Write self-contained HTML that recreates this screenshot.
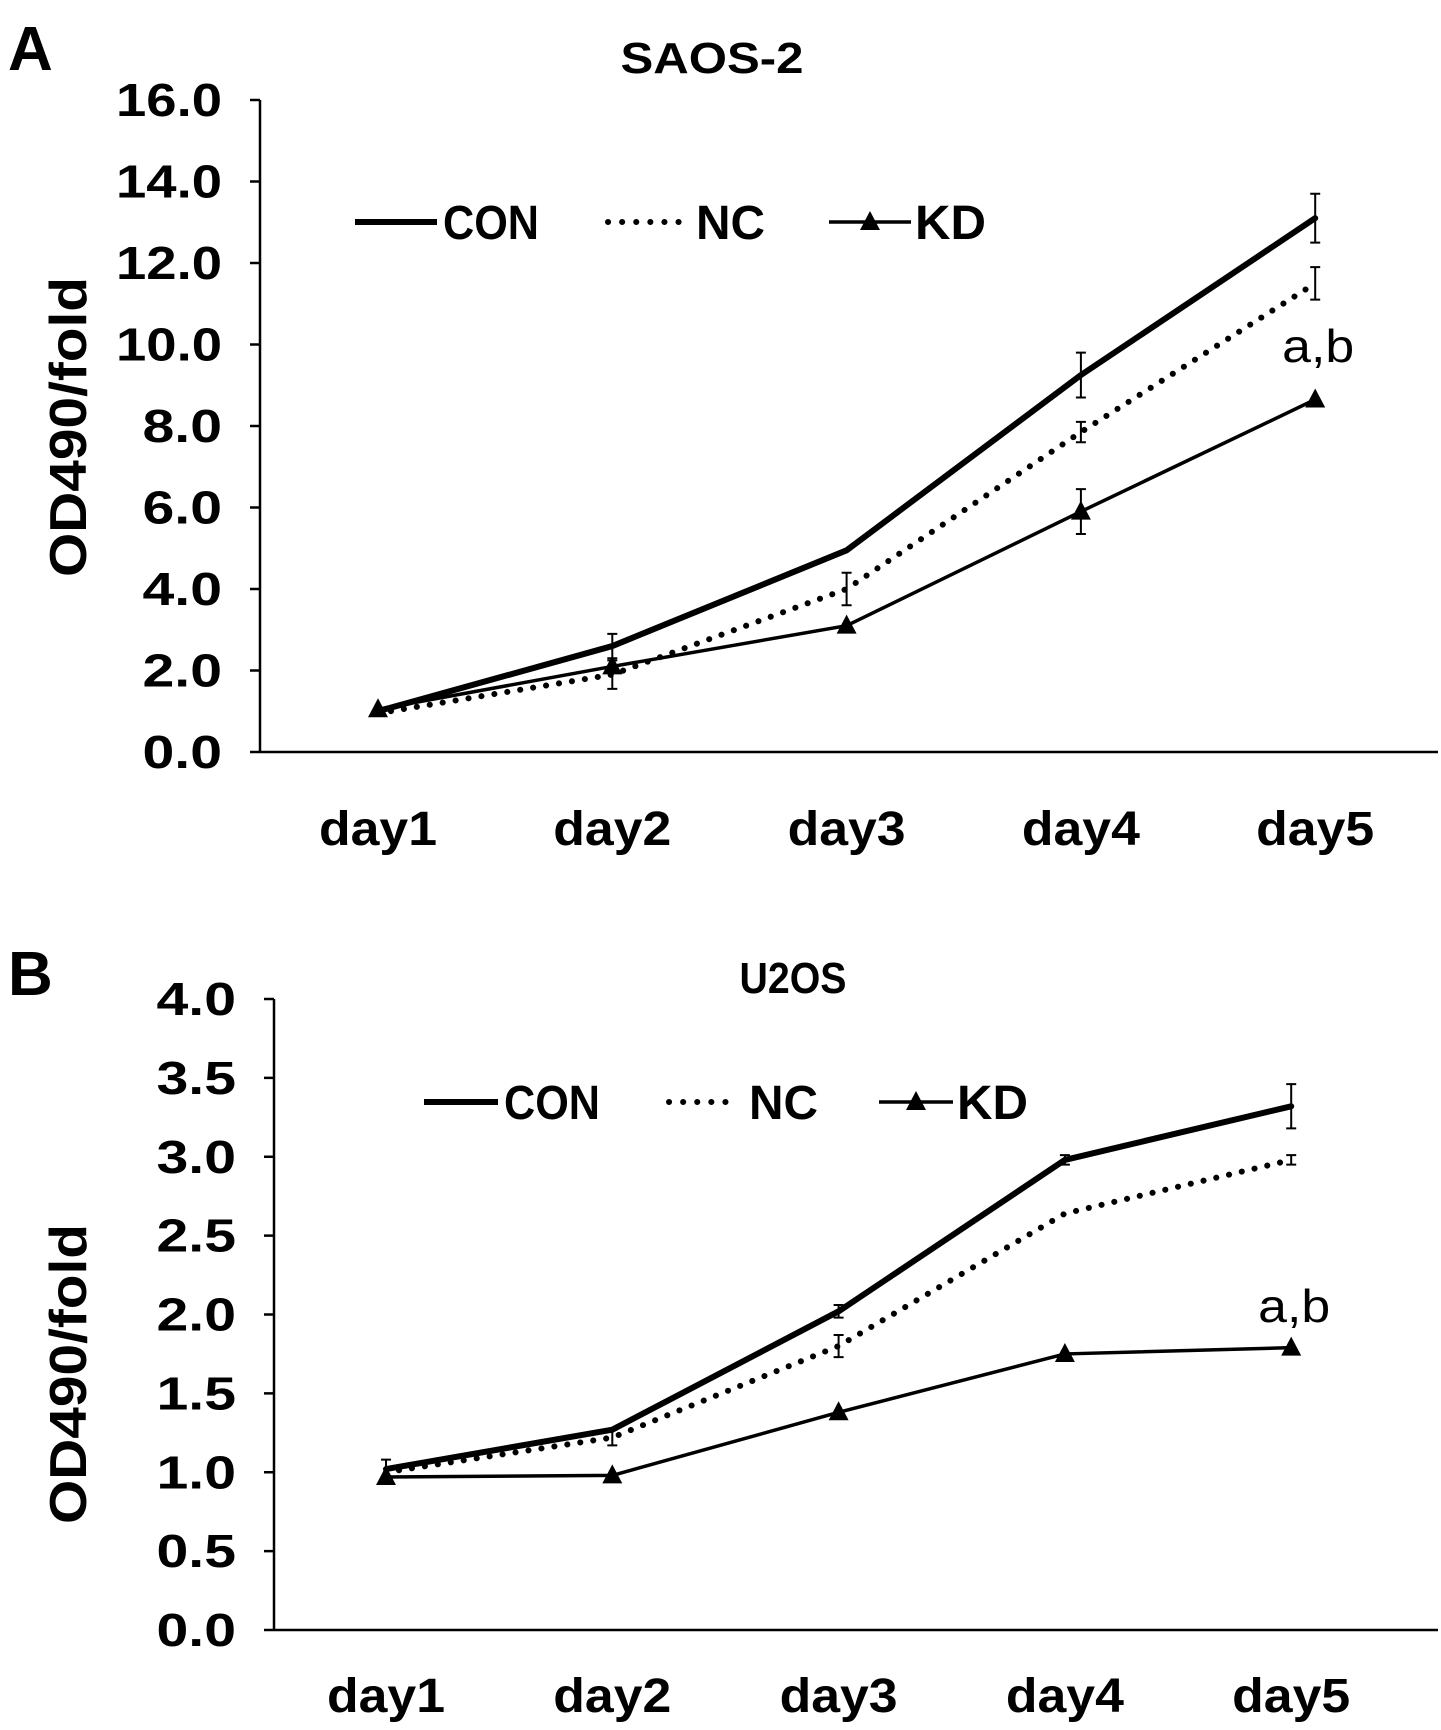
<!DOCTYPE html>
<html><head><meta charset="utf-8"><style>
html,body{margin:0;padding:0;background:#fff;}
svg{display:block;font-family:"Liberation Sans",Arial,sans-serif;}
</style></head><body>
<svg id="svg" width="1441" height="1730" viewBox="0 0 1441 1730">
<text x="8" y="70" font-size="62" font-weight="bold">A</text>
<text x="8" y="995" font-size="62" font-weight="bold">B</text>
</svg>
<script>
const days = ["day1","day2","day3","day4","day5"];
const aTicks = [0,2,4,6,8,10,12,14,16];
const aCon = [1.0,2.6,4.95,9.25,13.1];
const aConErr = [0,0.3,0,0.55,0.6];
const aNc = [0.95,1.9,4.0,7.85,11.5];
const aNcErr = [0,0.35,0.4,0.25,0.4];
const aKd = [1.05,2.1,3.1,5.9,8.65];
const aKdErr = [0,0,0,0.55,0];
const bTicks = [0,0.5,1,1.5,2,2.5,3,3.5,4];
const bCon = [1.02,1.27,2.02,2.98,3.32];
const bConErr = [0.06,0,0.04,0.03,0.14];
const bNc = [1.0,1.22,1.8,2.64,2.98];
const bNcErr = [0,0.05,0.07,0,0.03];
const bKd = [0.97,0.98,1.38,1.75,1.79];
const bKdErr = [0,0,0,0,0];

const NS="http://www.w3.org/2000/svg";
const svg=document.getElementById('svg');
function mk(tag,attrs,parent,text){const e=document.createElementNS(NS,tag);for(const k in attrs)e.setAttribute(k,attrs[k]);if(text!==undefined)e.textContent=text;(parent||svg).appendChild(e);return e;}

function chart(cfg){
  const g=mk('g',{});
  
  
  const ymax=cfg.ticks[cfg.ticks.length-1];
  const y=v=>cfg.y0-(v/ymax)*(cfg.y0-cfg.yTop);
  const x=i=>cfg.xs0+i*cfg.xstep;
  const t=mk('text',{x:cfg.titleX,y:cfg.titleY,'font-size':44,'font-weight':'bold','text-anchor':'middle',textLength:cfg.titleLen,lengthAdjust:'spacingAndGlyphs'},g,cfg.title);
  
  
  const ya=mk('line',{x1:cfg.ax,y1:cfg.yTop,x2:cfg.ax,y2:cfg.y0,stroke:'#000','stroke-width':2.5},g);
  
  
  const xa=mk('line',{x1:cfg.ax,y1:cfg.y0,x2:1438,y2:cfg.y0,stroke:'#000','stroke-width':2.5},g);
  
  
  cfg.ticks.forEach(v=>{
    mk('line',{x1:cfg.ax-10,y1:y(v),x2:cfg.ax,y2:y(v),stroke:'#000','stroke-width':2.5},g);
    const s=v.toFixed(1);
    const tl=mk('text',{x:cfg.ax-38,y:y(v)+16,'font-size':46,'font-weight':'bold','text-anchor':'end',textLength:s.length*26.5,lengthAdjust:'spacingAndGlyphs'},g,s);
    
    
  });
  days.forEach((d,i)=>{
    const dl=mk('text',{x:x(i),y:cfg.dayY,'font-size':48,'font-weight':'bold','text-anchor':'middle',textLength:118,lengthAdjust:'spacingAndGlyphs'},g,d);
    
    
  });
  const yt=mk('text',{x:0,y:0,'font-size':52,'font-weight':'bold','text-anchor':'middle',textLength:300,lengthAdjust:'spacingAndGlyphs',transform:`translate(${cfg.ytX},${cfg.ytY}) rotate(-90)`},g,'OD490/fold');
  
  
  const series=[
    {vals:cfg.con,err:cfg.conErr,w:6,dash:null,name:'con'},
    {vals:cfg.nc,err:cfg.ncErr,w:6,dash:'0.1 13',name:'nc'},
    {vals:cfg.kd,err:cfg.kdErr,w:3.5,dash:null,name:'kd',tri:true}
  ];
  series.forEach(s=>{
    const pts=s.vals.map((v,i)=>x(i)+','+y(v)).join(' ');
    const a={points:pts,fill:'none',stroke:'#000','stroke-width':s.w,'stroke-linecap':'round','stroke-linejoin':'round'};
    if(s.dash)a['stroke-dasharray']=s.dash;
    const pl=mk('polyline',a,g);
    
    
    s.vals.forEach((v,i)=>{
      const e=s.err[i];
      if(e>0){
        const eb=mk('path',{d:`M${x(i)},${y(v-e)}V${y(v+e)}M${x(i)-5},${y(v-e)}h10M${x(i)-5},${y(v+e)}h10`,stroke:'#000','stroke-width':2,fill:'none'},g);
        
        
      }
      if(s.tri){
        const cx=x(i),cy=y(v);
        const tr=mk('polygon',{points:`${cx},${cy-11} ${cx-10},${cy+8} ${cx+10},${cy+8}`,fill:'#000'},g);
        
        
      }
    });
  });
  const ab=mk('text',{x:x(4)+3,y:cfg.abY,'font-size':46,'text-anchor':'middle',textLength:72,lengthAdjust:'spacingAndGlyphs'},g,'a,b');
  
  
  const L=cfg.leg, ly=L.y;
  const lg=mk('g',{},g);
  
  
  mk('line',{x1:L.con,y1:ly,x2:L.con+L.len,y2:ly,stroke:'#000','stroke-width':6},lg);
  mk('text',{x:L.con+L.len+6,y:ly+17,'font-size':48,'font-weight':'bold',textLength:96,lengthAdjust:'spacingAndGlyphs'},lg,'CON');
  mk('line',{x1:L.nc+4,y1:ly,x2:L.nc+L.len,y2:ly,stroke:'#000','stroke-width':6,'stroke-dasharray':'0.1 14','stroke-linecap':'round'},lg);
  mk('text',{x:L.nc+L.len+10,y:ly+17,'font-size':48,'font-weight':'bold',textLength:69,lengthAdjust:'spacingAndGlyphs'},lg,'NC');
  mk('line',{x1:L.kd,y1:ly,x2:L.kd+L.len,y2:ly,stroke:'#000','stroke-width':3.5},lg);
  const mx=L.kd+L.len/2;
  mk('polygon',{points:`${mx},${ly-11} ${mx-10},${ly+8} ${mx+10},${ly+8}`,fill:'#000'},lg);
  mk('text',{x:L.kd+L.len+4,y:ly+17,'font-size':48,'font-weight':'bold',textLength:71,lengthAdjust:'spacingAndGlyphs'},lg,'KD');
}

chart({name:'chart-saos2',title:'SAOS-2',titleLen:183,titleX:712,titleY:73,ax:260,yTop:100,y0:752,xs0:378,xstep:234.3,
  ticks:aTicks,con:aCon,conErr:aConErr,nc:aNc,ncErr:aNcErr,kd:aKd,kdErr:aKdErr,
  dayY:845,ytX:86,ytY:427,abY:362,leg:{y:222,con:355,nc:604,kd:829,len:82}});
chart({name:'chart-u2os',title:'U2OS',titleLen:107,titleX:793,titleY:993,ax:274,yTop:999,y0:1630,xs0:386,xstep:226.3,
  ticks:bTicks,con:bCon,conErr:bConErr,nc:bNc,ncErr:bNcErr,kd:bKd,kdErr:bKdErr,
  dayY:1712,ytX:86,ytY:1374,abY:1322,leg:{y:1102,con:424,nc:665,kd:879,len:74}});
</script>
</body></html>
